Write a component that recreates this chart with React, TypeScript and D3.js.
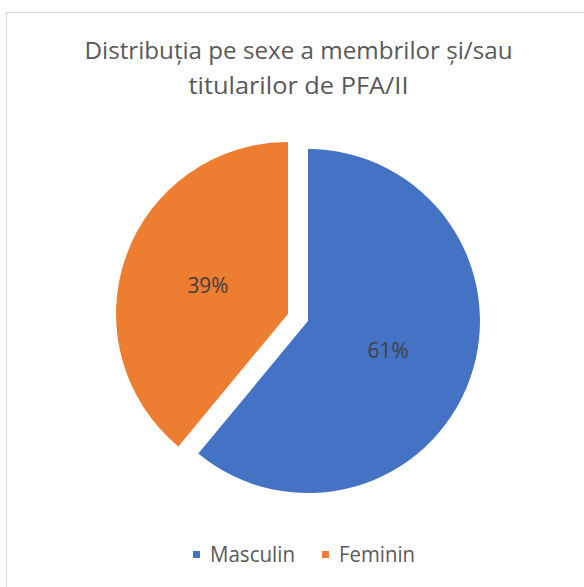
import React from "react";
import * as d3 from "d3";

const categories = ["Masculin", "Feminin"];
const values = [61, 39];
const colors = ["#4472C4", "#ED7D31"];
const titleLines = ["Distribuția pe sexe a membrilor și/sau", "titularilor de PFA/II"];

export default function App() {
  const W = 584, H = 587;
  const cx = 298, cy = 317.5, R = 172, explode = 10.6;
  const pie = d3.pie<number>().sort(null).startAngle(0).endAngle(2 * Math.PI)(values);
  const arc = d3.arc<d3.PieArcDatum<number>>().innerRadius(0).outerRadius(R);
  const total = d3.sum(values);
  const font = "'Open Sans', sans-serif";
  const titleWidths = [428, 220];
  const legendWidths = [85, 76];
  return (
    <svg width={W} height={H} style={{ position: "absolute", left: 0, top: 0 }}>
      <rect x={0} y={0} width={W} height={H} fill="#fff" />
      <rect x={6.5} y={12.5} width={W + 10} height={H + 10} fill="#fff" stroke="#d9d9d9" strokeWidth={1} />
      {titleLines.map((t, i) => (
        <text key={i} x={298.5} y={59 + i * 35} textAnchor="middle" fill="#595959" fontSize={24} fontFamily={font}
          textLength={titleWidths[i]} lengthAdjust="spacingAndGlyphs">{t}</text>
      ))}
      {pie.map((d, i) => {
        const mid = (d.startAngle + d.endAngle) / 2;
        const dx = Math.sin(mid) * explode, dy = -Math.cos(mid) * explode;
        const lr = R * 0.495;
        return (
          <g key={i} transform={`translate(${cx + dx},${cy + dy})`}>
            <path d={arc(d) || ""} fill={colors[i]} />
            <text x={Math.sin(mid) * lr} y={-Math.cos(mid) * lr + 8} textAnchor="middle"
              fill="#404040" fontSize={22} fontFamily={font}
              textLength={41} lengthAdjust="spacingAndGlyphs">{Math.round((d.value / total) * 100)}%</text>
          </g>
        );
      })}
      {categories.map((c, i) => {
        const x0 = i === 0 ? 193 : 322;
        return (
          <g key={c}>
            <rect x={x0} y={551} width={7} height={7} fill={colors[i]} />
            <text x={x0 + 17} y={562} fill="#595959" fontSize={22} fontFamily={font}
              textLength={legendWidths[i]} lengthAdjust="spacingAndGlyphs">{c}</text>
          </g>
        );
      })}
    </svg>
  );
}
